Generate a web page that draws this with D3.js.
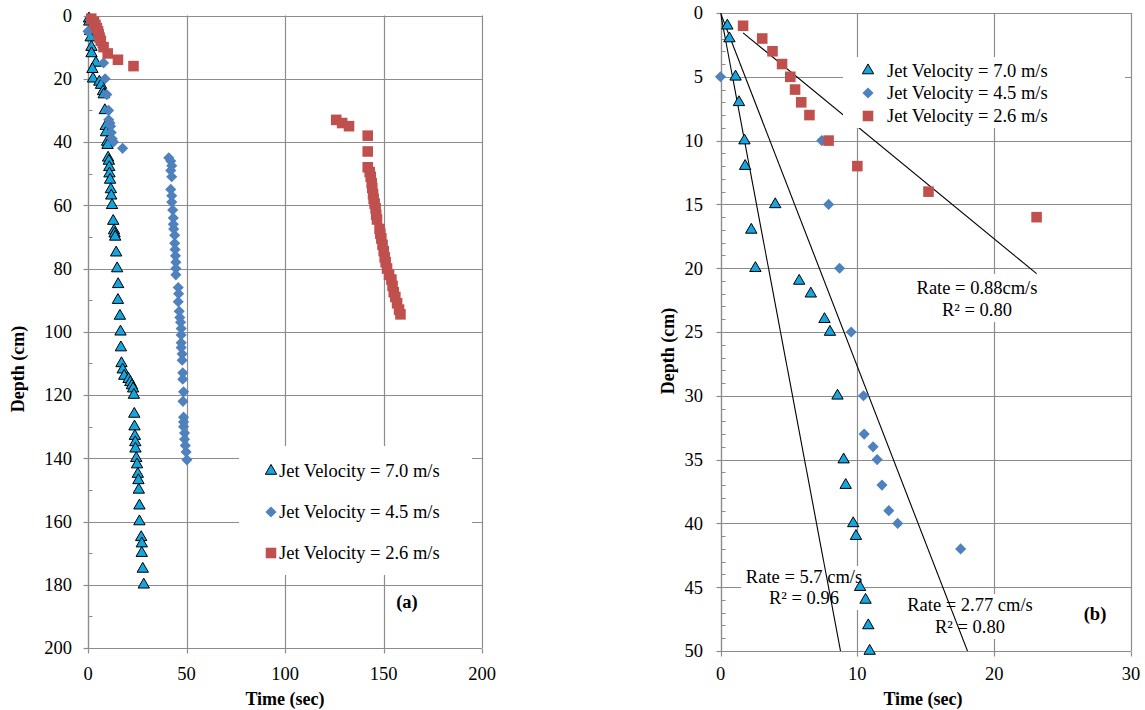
<!DOCTYPE html>
<html>
<head>
<meta charset="utf-8">
<script src="https://cdn.jsdelivr.net/npm/d3@7/dist/d3.min.js"></script>
<style>
  body { margin: 0; background: #fff; }
  svg text { font-family: "Liberation Serif", "Times New Roman", serif; fill: #000; }
</style>
</head>
<body>
<svg id="chart" width="1145" height="710"></svg>
<script>
// series labels
var seriesNames = ["Jet Velocity = 7.0 m/s", "Jet Velocity = 4.5 m/s", "Jet Velocity = 2.6 m/s"];

// [time (sec), depth (cm)]
var jet70 = [[0.5,1],[0.65,2],[1.1,5],[1.35,7],[1.75,10],[1.8,12],[4.0,15],[2.25,17],[2.55,20],[5.75,21],
  [6.6,22],[7.6,24],[8.0,25],[8.55,30],[9.0,35],[9.15,37],[9.7,40],[9.9,41],[10.2,45],[10.6,46],[10.8,48],[10.9,50],
  [11.2,52],[11.6,55],[11.8,57],[12.2,60],[12.8,65],[13.2,68],[13.5,69],[13.8,70],[14.3,75],[14.8,80],[15.3,85],
  [15.2,90],[16.2,95],[16.5,100],[16.7,105],[17.0,110],[17.6,112],[18.4,114],[20.6,115],[21.5,116],[22.3,117],
  [22.9,118],[23.3,120],[23.5,126],[23.6,130],[23.8,133],[24.0,135],[24.1,137],[24.5,140],[24.9,142],[25.3,145],
  [25.6,147],[25.8,150],[26.1,155],[26.1,160],[27.0,165],[27.3,167],[27.3,170],[27.8,175],[28.3,180]];
var jet45 = [[0,5],[7.4,10],[7.9,15],[8.7,20],[9.55,25],[10.45,30],[10.5,33],[11.15,34],[11.45,35],[11.8,37],
  [12.3,39],[12.95,40],[17.55,42],
  [41,45],[42,46],[42.5,47.5],[42,49],[42.5,51],[42,55],[42.5,57],[42.5,59],[43,61.5],[43.3,64],[43.3,66],
  [43.5,67.5],[44,69.5],[44,72],[44.2,74],[44.4,76],[44.6,78],[44.6,80],[44.6,82],[45.8,86],[46,88],[45.8,90.5],
  [46.3,93.5],[46.6,95.5],[47,97],[47.3,99],[47.3,101],[47.3,103.5],[47.3,105],[47.8,107],[47.8,109],[48.1,113],
  [48.1,115],[48.5,119],[48.2,122],[48.5,127],[48.5,128.5],[48.5,130],[49,132],[49,134],[49.4,136],[49.8,138],[50.2,140.5]];
var jet26 = [[1.65,1],[3.05,2],[3.8,3],[4.5,4],[5.1,5],[5.45,6],[5.9,7],[6.5,8],[7.9,10],[10.0,12],[15.2,14],[23.1,16],
  [126,33],[129,34],[132.5,35],[142,38],[142,43],[142,48],[143,49.5],[143.5,51],[144,53],[144.3,54.5],[144.7,56.5],
  [145,58],[145.5,59.5],[146,61],[146.3,63],[146.7,64.5],[148,67.5],[148.4,69],[148.9,70.5],[149.5,72.5],[150.1,74.5],
  [150.6,76.5],[151.1,78],[151.8,80],[152.8,82],[154,83.5],[154.6,85.5],[155.2,87.5],[156,89],[156.9,91],[157.9,93],[158.6,94.5]];

// ticks
var timeTicksA = [0, 50, 100, 150, 200];
var depthTicksA = [0, 20, 40, 60, 80, 100, 120, 140, 160, 180, 200];
var timeTicksB = [0, 10, 20, 30];
var depthTicksB = [0, 5, 10, 15, 20, 25, 30, 35, 40, 45, 50];

// linear fits shown in (b): depth = rate * time + intercept
var trendRate = [5.7, 2.77, 0.88];
var trendIntercept = [0, 0, 0.1];
var trendFrom = [0, 0, 1.65];
var trendTo = [30, 30, 23.1];
var trendText1 = ["Rate = 5.7 cm/s", "Rate = 2.77 cm/s", "Rate = 0.88cm/s"];
var trendText2 = ["R\u00b2 = 0.96", "R\u00b2 = 0.80", "R\u00b2 = 0.80"];

var colors = ["#13A6E0", "#4F81BD", "#C0504D"];
var gridColor = "#8c8c8c";
var fontSize = "18.5px";

var svg = d3.select("#chart");

function drawMarker(g, i, x, y) {
    if (i == 0) {
        g.append("path")
            .attr("d", d3.symbol().type(d3.symbolTriangle).size(56)())
            .attr("transform", "translate(" + x + "," + y + ")")
            .attr("fill", colors[0])
            .attr("stroke", "#000")
            .attr("stroke-width", 1);
    } else if (i == 1) {
        g.append("path")
            .attr("d", d3.symbol().type(d3.symbolSquare).size(62)())
            .attr("transform", "translate(" + x + "," + y + ") rotate(45)")
            .attr("fill", colors[1]);
    } else {
        g.append("path")
            .attr("d", d3.symbol().type(d3.symbolSquare).size(112)())
            .attr("transform", "translate(" + x + "," + y + ")")
            .attr("fill", colors[2]);
    }
}

function drawPanel(p) {
    var g = svg.append("g");
    var x = d3.scaleLinear().domain(p.xDomain).range(p.xRange);
    var y = d3.scaleLinear().domain(p.yDomain).range(p.yRange);

    // grid
    p.yTicks.forEach(function (t) {
        g.append("line").attr("x1", p.xRange[0]).attr("x2", p.xRange[1])
            .attr("y1", Math.round(y(t)) + 0.5).attr("y2", Math.round(y(t)) + 0.5)
            .attr("stroke", gridColor).attr("stroke-width", 1.2);
    });
    p.xTicks.forEach(function (t) {
        g.append("line").attr("y1", p.yRange[0]).attr("y2", p.yRange[1])
            .attr("x1", Math.round(x(t)) + 0.5).attr("x2", Math.round(x(t)) + 0.5)
            .attr("stroke", gridColor).attr("stroke-width", 1.2);
    });

    // axes
    var x0 = Math.round(x(0)) + 0.5, yb = Math.round(y(p.yDomain[1])) + 0.5;
    g.append("line").attr("x1", x0).attr("x2", x0).attr("y1", p.yRange[0]).attr("y2", p.yRange[1])
        .attr("stroke", gridColor).attr("stroke-width", 1.2);
    g.append("line").attr("x1", p.xRange[0]).attr("x2", p.xRange[1]).attr("y1", yb).attr("y2", yb)
        .attr("stroke", gridColor).attr("stroke-width", 1.2);
    d3.range(p.yDomain[0], p.yDomain[1] + 0.001, p.yMinor).forEach(function (t) {
        g.append("line").attr("x1", x0).attr("x2", x0 + 4)
            .attr("y1", Math.round(y(t)) + 0.5).attr("y2", Math.round(y(t)) + 0.5)
            .attr("stroke", gridColor);
    });
    p.yTicks.forEach(function (t) {
        g.append("line").attr("x1", x0 - 5).attr("x2", x0)
            .attr("y1", Math.round(y(t)) + 0.5).attr("y2", Math.round(y(t)) + 0.5)
            .attr("stroke", gridColor).attr("stroke-width", 1.2);
        g.append("text").attr("x", p.yLabelRight).attr("y", y(t)).attr("dy", "0.35em")
            .attr("text-anchor", "end").attr("font-size", fontSize).text(t);
    });
    p.xTicks.forEach(function (t) {
        g.append("line").attr("y1", yb).attr("y2", yb + 5)
            .attr("x1", Math.round(x(t)) + 0.5).attr("x2", Math.round(x(t)) + 0.5)
            .attr("stroke", gridColor).attr("stroke-width", 1.2);
        g.append("text").attr("x", x(t)).attr("y", 680)
            .attr("text-anchor", "middle").attr("font-size", fontSize).text(t);
    });

    // axis titles
    g.append("text").attr("x", p.xTitle[0]).attr("y", p.xTitle[1])
        .attr("text-anchor", "middle").attr("font-size", "18px").attr("font-weight", "bold")
        .text("Time (sec)");
    g.append("text").attr("transform", "translate(" + p.yTitle[0] + "," + p.yTitle[1] + ") rotate(-90)")
        .attr("dy", "0.35em").attr("text-anchor", "middle").attr("font-size", "18px").attr("font-weight", "bold")
        .text("Depth (cm)");

    // trendline label boxes
    if (p.trends) {
        p.trendPos.forEach(function (tp) {
            g.append("rect").attr("x", tp.box[0]).attr("y", tp.box[1])
                .attr("width", tp.box[2]).attr("height", tp.box[3]).attr("fill", "#fff");
        });
        var clipId = "clip" + p.id;
        svg.append("clipPath").attr("id", clipId).append("rect")
            .attr("x", p.xRange[0]).attr("y", p.yRange[0])
            .attr("width", p.xRange[1] - p.xRange[0]).attr("height", p.yRange[1] - p.yRange[0]);
        var line = d3.line()
            .x(function (d) { return x(d[0]); })
            .y(function (d) { return y(d[1]); });
        for (var k = 0; k < trendRate.length; k++) {
            var pts = [trendFrom[k], trendTo[k]].map(function (t) {
                return [t, trendRate[k] * t + trendIntercept[k]];
            });
            g.append("path").datum(pts).attr("d", line)
                .attr("clip-path", "url(#" + clipId + ")")
                .attr("fill", "none").attr("stroke", "#000").attr("stroke-width", 1.1);
        }
    }

    // legend box
    g.append("rect").attr("x", p.legendBox[0]).attr("y", p.legendBox[1])
        .attr("width", p.legendBox[2]).attr("height", p.legendBox[3]).attr("fill", "#fff");

    // points
    [jet70, jet45, jet26].forEach(function (series, i) {
        series.forEach(function (d) {
            if (d[0] > p.xDomain[1] + 0.01 || d[1] > p.yDomain[1] + 0.01) return;
            drawMarker(g, i, x(d[0]), y(d[1]));
        });
    });

    // legend
    seriesNames.forEach(function (name, i) {
        var ly = p.legendRows[i];
        drawMarker(g, i, p.legendMarkerX, ly);
        g.append("text").attr("x", p.legendTextX).attr("y", ly).attr("dy", "0.33em")
            .attr("font-size", fontSize).text(name);
    });

    // trend labels
    if (p.trends) {
        p.trendPos.forEach(function (tp, k) {
            g.append("text").attr("x", tp.x).attr("y", tp.y1).attr("text-anchor", "middle")
                .attr("font-size", fontSize).text(trendText1[k]);
            g.append("text").attr("x", tp.x).attr("y", tp.y2).attr("text-anchor", "middle")
                .attr("font-size", fontSize).text(trendText2[k]);
        });
    }

    // panel tag
    g.append("text").attr("x", p.tag[0]).attr("y", p.tag[1]).attr("text-anchor", "middle")
        .attr("font-size", fontSize).attr("font-weight", "bold").text(p.tag[2]);
}

drawPanel({
    id: "a",
    xDomain: [0, 200], xRange: [88, 482],
    yDomain: [0, 200], yRange: [15.5, 648],
    xTicks: timeTicksA, yTicks: depthTicksA, yMinor: 10,
    yLabelRight: 72,
    xTitle: [285, 705], yTitle: [18, 369],
    legendBox: [239, 446, 233, 129],
    legendRows: [471, 512, 553], legendMarkerX: 271, legendTextX: 279,
    tag: [407, 608, "(a)"],
    trends: false
});

drawPanel({
    id: "b",
    xDomain: [0, 30], xRange: [720.5, 1131],
    yDomain: [0, 50], yRange: [13, 651],
    xTicks: timeTicksB, yTicks: depthTicksB, yMinor: 1,
    yLabelRight: 703,
    xTitle: [923, 705], yTitle: [668, 351],
    legendBox: [843, 57, 282, 71],
    legendRows: [70.5, 93, 116], legendMarkerX: 868, legendTextX: 887,
    tag: [1095, 620, "(b)"],
    trends: true,
    trendPos: [
        { x: 804, y1: 583, y2: 604, box: [741, 566, 124, 44] },
        { x: 970, y1: 611, y2: 633, box: [905, 594, 131, 45] },
        { x: 977, y1: 294, y2: 316, box: [913, 274, 128, 48] }
    ]
});
</script>
</body>
</html>
